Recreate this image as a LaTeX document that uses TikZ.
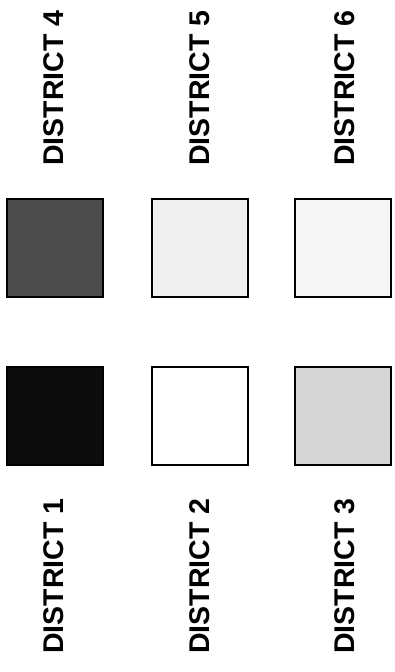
\documentclass[tikz,border=0pt]{standalone}
\usepackage{fontspec}
\setmainfont{Liberation Sans}
\begin{document}
\begin{tikzpicture}[x=1pt,y=-1pt,
  swatch/.style={draw=black,line width=1.3pt,minimum width=96pt,minimum height=98pt,inner sep=0pt},
  lbl/.style={rotate=90,font=\fontsize{28.5}{30}\selectfont\bfseries,inner sep=0pt}]
\useasboundingbox (0,0) rectangle (395,672);
\node[lbl] (l4) at (54,88) {DISTRICT 4};
\node[lbl] (l5) at (200,88) {DISTRICT 5};
\node[lbl] (l6) at (345,88) {DISTRICT 6};
\node[swatch,fill=black!70] (d4) at (55,248) {};
\node[swatch,fill=black!6] (d5) at (200,248) {};
\node[swatch,fill=black!4] (d6) at (343,248) {};
\node[swatch,fill=black!95] (d1) at (55,416) {};
\node[swatch,fill=white] (d2) at (200,416) {};
\node[swatch,fill=black!16] (d3) at (343,416) {};
\node[lbl] (l1) at (54,576) {DISTRICT 1};
\node[lbl] (l2) at (200,576) {DISTRICT 2};
\node[lbl] (l3) at (345,576) {DISTRICT 3};
\end{tikzpicture}
\end{document}
